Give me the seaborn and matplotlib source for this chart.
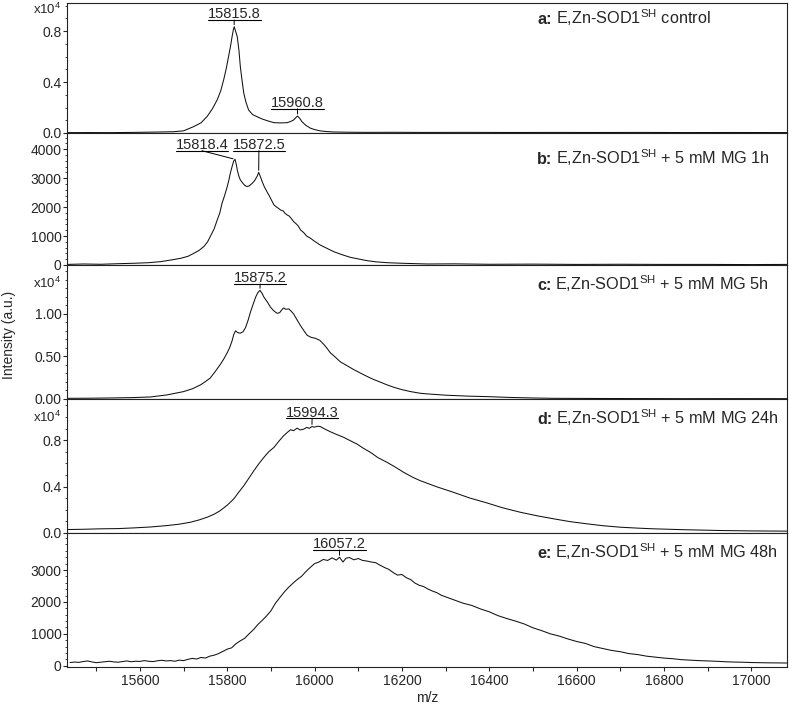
import numpy as np
import matplotlib
matplotlib.use("Agg")
import matplotlib.pyplot as plt
import matplotlib.transforms as mtransforms
from matplotlib.ticker import MultipleLocator, FixedLocator, FuncFormatter
import seaborn as sns

# --------------------------
# Data
# --------------------------

mz_a = [15433, 15480, 15530, 15580, 15630, 15677, 15700, 15723, 15740, 15754,
        15766, 15777, 15785, 15792, 15798, 15803, 15808, 15811, 15814, 15816,
        15819, 15823, 15827, 15830, 15834, 15838, 15843, 15849, 15858, 15868,
        15880, 15891, 15907, 15922, 15937, 15945, 15952, 15957, 15961, 15966,
        15971, 15980, 15991, 16002, 16014, 16030, 16044, 16080, 16120, 16180,
        16250, 16350, 16450, 16550, 16650, 16750, 16850, 16950, 17082]
int_a = [30, 35, 30, 45, 70, 100, 170, 500, 800, 1300,
         1900, 2600, 3300, 4200, 5100, 6000, 6900, 7550, 8100, 8340,
         8000, 7550, 6400, 5200, 4100, 3100, 2400, 1800, 1450, 1280,
         1100, 970, 810, 790, 810, 900, 1020, 1200, 1330, 1150,
         890, 600, 370, 250, 160, 110, 80, 60, 50, 55,
         45, 50, 40, 45, 40, 45, 35, 40, 35]

mz_b = [15433, 15470, 15510, 15550, 15586, 15620, 15647, 15670, 15693, 15710,
        15723, 15735, 15746, 15755, 15761, 15770, 15777, 15783, 15788, 15794,
        15800, 15804, 15807, 15812, 15815, 15818, 15821, 15823, 15827, 15830,
        15836, 15840, 15845, 15850, 15857, 15862, 15866, 15869, 15872, 15876,
        15880, 15885, 15891, 15896, 15901, 15907, 15913, 15918, 15922, 15928,
        15932, 15937, 15942, 15947, 15952, 15958, 15962, 15968, 15975, 15982,
        15991, 16000, 16013, 16025, 16044, 16062, 16082, 16100, 16120, 16140,
        16166, 16200, 16258, 16320, 16400, 16500, 16600, 16700, 16800, 16900,
        17000, 17082]
int_b = [20, 35, 25, 45, 60, 80, 115, 170, 230, 300,
         400, 500, 630, 800, 980, 1250, 1555, 1800, 2130, 2400,
         2710, 2950, 3170, 3450, 3600, 3650, 3450, 3280, 3050, 2940,
         2820, 2750, 2710, 2730, 2820, 2900, 3000, 3080, 3200, 3050,
         2880, 2700, 2530, 2400, 2250, 2075, 2000, 1950, 1900, 1870,
         1790, 1730, 1690, 1600, 1500, 1420, 1360, 1210, 1120, 1000,
         920, 820, 690, 600, 460, 360, 265, 210, 150, 110,
         80, 60, 35, 40, 25, 30, 20, 25, 20, 20,
         15, 20]

mz_c = [15433, 15480, 15530, 15580, 15624, 15662, 15700, 15720, 15739, 15750,
        15761, 15772, 15784, 15792, 15800, 15806, 15811, 15815, 15819, 15824,
        15830, 15836, 15842, 15848, 15853, 15859, 15865, 15870, 15875, 15880,
        15884, 15892, 15899, 15906, 15914, 15920, 15925, 15929, 15934, 15941,
        15946, 15952, 15960, 15968, 15976, 15983, 15992, 16002, 16012, 16021,
        16028, 16036, 16048, 16059, 16075, 16090, 16105, 16120, 16135, 16151,
        16165, 16181, 16200, 16220, 16242, 16258, 16300, 16350, 16395, 16450,
        16500, 16547, 16650, 16750, 16850, 16950, 17082]
int_c = [80, 90, 120, 160, 240, 480, 870, 1200, 1670, 2050,
         2460, 3200, 4050, 4700, 5440, 6100, 6830, 7600, 8020, 7800,
         7740, 7900, 8410, 9300, 10200, 11100, 11980, 12500, 12780, 12400,
         11980, 11400, 10800, 10400, 10080, 10150, 10500, 10710, 10550, 10600,
         10350, 10000, 9300, 8610, 8000, 7500, 7250, 7140, 6900, 6430,
         6000, 5440, 4900, 4370, 3900, 3450, 3050, 2660, 2300, 1980,
         1680, 1390, 1100, 870, 675, 600, 450, 340, 280, 180,
         120, 80, 60, 50, 40, 45, 40]

mz_d = [15433, 15470, 15509, 15550, 15586, 15625, 15662, 15690, 15716, 15735,
        15754, 15770, 15784, 15800, 15815, 15826, 15838, 15850, 15861, 15872,
        15884, 15895, 15907, 15918, 15929, 15937, 15945, 15952, 15960, 15967,
        15975, 15982, 15988, 15994, 16000, 16006, 16013, 16024, 16036, 16050,
        16067, 16082, 16097, 16112, 16128, 16145, 16166, 16185, 16204, 16225,
        16242, 16280, 16318, 16355, 16395, 16430, 16471, 16510, 16548, 16585,
        16624, 16660, 16700, 16740, 16777, 16850, 16929, 17000, 17082]
int_d = [300, 320, 360, 380, 440, 520, 640, 760, 930, 1120,
         1360, 1620, 1930, 2400, 2940, 3500, 4080, 4750, 5370, 5950,
         6520, 7000, 7380, 7900, 8380, 8650, 8900, 8820, 9040, 8880,
         8950, 9100, 9020, 9180, 9120, 9200, 9180, 8950, 8730, 8500,
         8240, 7950, 7670, 7300, 6950, 6500, 6090, 5680, 5230, 4800,
         4510, 3980, 3510, 3020, 2590, 2180, 1790, 1480, 1220, 980,
         790, 630, 500, 420, 360, 280, 215, 180, 160]

mz_e = [15440, 15450, 15460, 15470, 15480, 15490, 15500, 15510, 15520, 15530,
        15540, 15550, 15560, 15570, 15580, 15590, 15600, 15610, 15620, 15630,
        15640, 15650, 15660, 15670, 15680, 15690, 15700, 15710, 15720, 15730,
        15740, 15750, 15760, 15770, 15780, 15790, 15800, 15810, 15820, 15830,
        15840, 15850, 15860, 15870, 15880, 15890, 15900, 15910, 15920, 15930,
        15940, 15950, 15960, 15970, 15980, 15990, 16000, 16010, 16020, 16030,
        16040, 16050, 16057, 16065, 16072, 16080, 16090, 16100, 16110, 16120,
        16130, 16140, 16150, 16160, 16170, 16180, 16190, 16200, 16210, 16220,
        16230, 16240, 16250, 16260, 16270, 16280, 16290, 16300, 16320, 16340,
        16360, 16380, 16400, 16420, 16440, 16460, 16480, 16500, 16520, 16540,
        16560, 16580, 16600, 16620, 16640, 16660, 16680, 16700, 16720, 16740,
        16760, 16780, 16800, 16820, 16840, 16860, 16880, 16900, 16920, 16940,
        16960, 16980, 17000, 17020, 17040, 17060, 17082]
int_e = [100, 115, 105, 130, 150, 120, 95, 110, 125, 140,
         120, 110, 130, 150, 125, 140, 135, 160, 140, 130,
         155, 170, 150, 160, 140, 175, 160, 200, 230, 210,
         260, 240, 300, 330, 380, 450, 520, 560, 690, 780,
         860, 1000, 1130, 1290, 1420, 1560, 1720, 1950, 2130, 2300,
         2450, 2580, 2700, 2800, 2950, 3080, 3200, 3250, 3330, 3300,
         3380, 3310, 3400, 3250, 3370, 3390, 3320, 3360, 3300, 3280,
         3250, 3230, 3150, 3080, 3020, 2920, 2840, 2860, 2760, 2700,
         2590, 2520, 2480, 2400, 2340, 2290, 2210, 2160, 2060, 1960,
         1890, 1780, 1690, 1570, 1480, 1400, 1310, 1190, 1100, 1000,
         930, 840, 760, 700, 600, 540, 480, 440, 380, 350,
         300, 270, 240, 220, 190, 175, 160, 150, 140, 125,
         115, 110, 100, 95, 90, 88, 85]

panel_titles = ["control", "+ 5 mM MG 1h", "+ 5 mM MG 5h",
                "+ 5 mM MG 24h", "+ 5 mM MG 48h"]
panel_letters = ["a:", "b:", "c:", "d:", "e:"]

# y tick values shown on each panel
yticks = [[0, 4000, 8000], [0, 1000, 2000, 3000, 4000], [0, 5000, 10000],
          [0, 4000, 8000], [0, 1000, 2000, 3000]]

# peak labels: (panel, peak m/z)
peak_panel = [0, 0, 1, 1, 2, 3, 4]
peak_mz = [15815.8, 15960.8, 15818.4, 15872.5, 15875.2, 15994.3, 16057.2]

# --------------------------
# Layout (pixels of the 789x709 picture)
# --------------------------

W, H = 789, 709
panel_top = [3, 133, 265, 399, 533]
panel_h = [130, 132, 134, 134, 134]
ylims = [(0, 10200), (0, 4560), (0, 15760), (0, 11550), (-40, 4160)]
minor_step = [1000, 200, 1000, 1000, 200]
fmt = ["{:.1f}", "{:.0f}", "{:.2f}", "{:.1f}", "{:.0f}"]
scale = [1e4, 1, 1e4, 1e4, 1]
label_base_px = [23.5, 163.5, 290.5, 423.5, 557.5]
exp_y_px = [9, None, 283, 417, None]
# underline y (px) and text centre (m/z) for each peak label
under_px = [20, 108.7, 150.7, 150.7, 284, 418.3, 550]
text_mz = [15815.8, 15960.8, 15742, 15872.5, 15875.2, 15994.3, 16057.2]

sns.set_style("ticks")
plt.rcParams["font.family"] = ["Liberation Sans", "DejaVu Sans"]
plt.rcParams["mathtext.fontset"] = "custom"
plt.rcParams["mathtext.rm"] = "Liberation Sans"
plt.rcParams["mathtext.bf"] = "Liberation Sans:bold"
plt.rcParams["mathtext.it"] = "Liberation Sans:italic"

fig, axes = plt.subplots(
    5, 1, figsize=(W / 100, H / 100), dpi=100, sharex=True,
    gridspec_kw=dict(height_ratios=panel_h, hspace=0,
                     left=67 / W, right=787 / W,
                     top=1 - 3 / H, bottom=1 - 667 / H))

series = [(mz_a, int_a), (mz_b, int_b), (mz_c, int_c), (mz_d, int_d), (mz_e, int_e)]


def frac(i, py):
    # pixel row -> axes fraction for panel i
    return (panel_top[i] + panel_h[i] - py) / panel_h[i]


bold_texts = []
for i, ax in enumerate(axes):
    x, y = series[i]
    assert len(x) == len(y)
    sns.lineplot(x=x, y=y, ax=ax, color="#111111", linewidth=0.75)
    ax.set_xlim(15433, 17082)
    ax.set_ylim(*ylims[i])
    ax.set_xlabel("")
    ax.set_ylabel("")
    for s in ax.spines.values():
        s.set_visible(True)
        s.set_linewidth(0.8)
        s.set_color("#222222")
    ax.yaxis.set_major_locator(FixedLocator(yticks[i]))
    ax.yaxis.set_minor_locator(MultipleLocator(minor_step[i]))
    ax.yaxis.set_major_formatter(
        FuncFormatter(lambda v, p, f=fmt[i], s=scale[i]: f.format(v / s)))
    ax.tick_params(axis="y", which="major", direction="out", length=3,
                   width=0.8, pad=1, labelsize=10)
    ax.tick_params(axis="y", which="minor", direction="out", length=1.6, width=0.6)
    ax.tick_params(axis="x", which="both", bottom=False, labelbottom=False)

    blend_fa = mtransforms.blended_transform_factory(fig.transFigure, ax.transAxes)
    bold = ax.text(537 / W, frac(i, label_base_px[i]), panel_letters[i],
                   fontsize=11.7, fontweight="bold", ha="left", va="baseline",
                   transform=blend_fa)
    bold_texts.append((ax, bold, blend_fa))

    if exp_y_px[i] is not None:
        ax.text(-6 / 720, frac(i, exp_y_px[i]), "x10$^{4}$", fontsize=9.5,
                ha="right", va="center", transform=ax.transAxes)

# bottom axis
axb = axes[-1]
axb.xaxis.set_major_locator(MultipleLocator(200))
axb.xaxis.set_minor_locator(MultipleLocator(100))
axb.tick_params(axis="x", which="both", bottom=True, labelbottom=True,
                direction="out", length=3, width=0.8, pad=2, labelsize=10)

fig.text(427 / W, 1 - 698 / H, "m/z", ha="center", va="center", fontsize=10)
fig.text(9 / W, 1 - 335 / H, "Intensity (a.u.)", rotation=90,
         ha="center", va="center", fontsize=10)

# peak labels with underline and leader line
labels = []
for k, (pi, pm) in enumerate(zip(peak_panel, peak_mz)):
    ax = axes[pi]
    blend = mtransforms.blended_transform_factory(ax.transData, ax.transAxes)
    uy = frac(pi, under_px[k])
    t = ax.annotate(f"{pm:.1f}", xy=(text_mz[k], uy), xycoords=blend,
                    xytext=(0, 1.2), textcoords="offset points",
                    ha="center", va="baseline", fontsize=10.5)
    labels.append((ax, t, uy))
    x, y = series[pi]
    j = int(np.argmin(np.abs(np.array(x) - pm)))
    ax.annotate("", xy=(x[j], y[j]), xycoords="data",
                xytext=(text_mz[k], uy), textcoords=blend,
                arrowprops=dict(arrowstyle="-", color="black", lw=0.7,
                                shrinkA=0, shrinkB=1.5))

fig.canvas.draw()
renderer = fig.canvas.get_renderer()
for ax, t, uy in labels:
    bb = t.get_window_extent(renderer)
    x0 = ax.transAxes.inverted().transform((bb.x0, bb.y0))[0]
    x1 = ax.transAxes.inverted().transform((bb.x1, bb.y0))[0]
    ax.plot([x0, x1], [uy, uy], color="black", lw=0.8,
            transform=ax.transAxes, clip_on=False)

# rest of each panel label, placed right after the bold letter
for i, (ax, bold, blend_fa) in enumerate(bold_texts):
    bb = bold.get_window_extent(renderer)
    xr = fig.transFigure.inverted().transform((bb.x1 + 4, 0))[0]
    ax.text(xr, bold.get_position()[1],
            "E,Zn-SOD1$^{\\mathrm{SH}}$ " + panel_titles[i],
            fontsize=11.7, ha="left", va="baseline", transform=blend_fa)

fig.savefig("out.png", dpi=100)
